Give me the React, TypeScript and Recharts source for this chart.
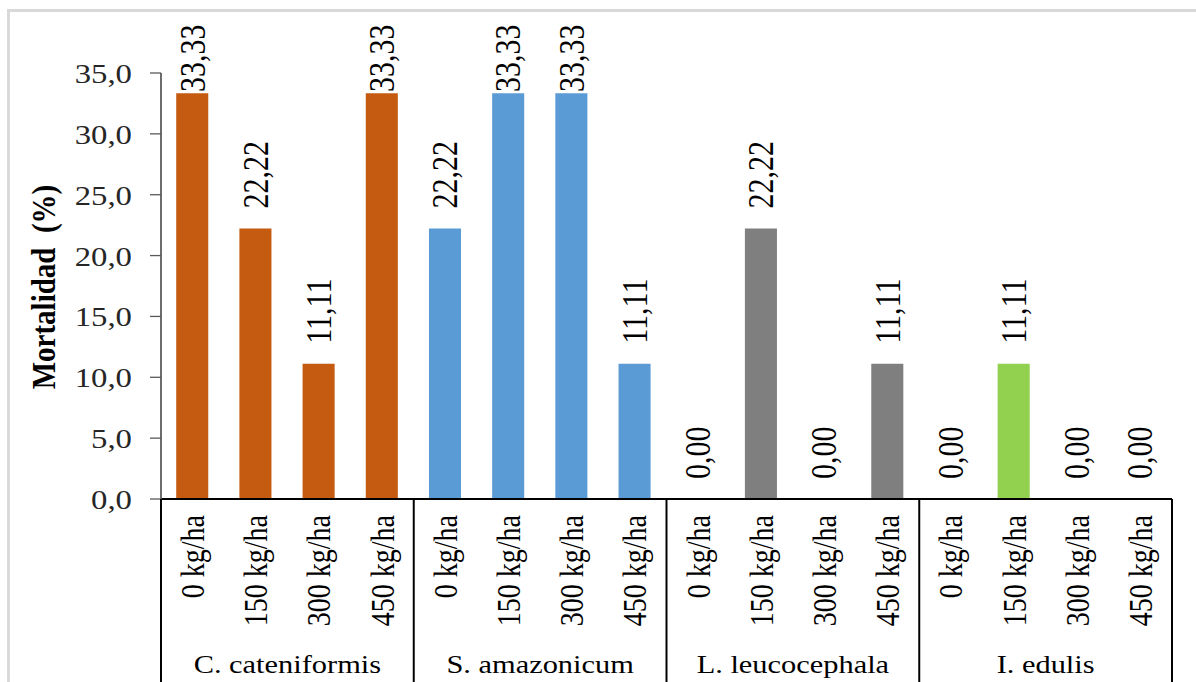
import { BarChart, Bar, XAxis, YAxis, Cell } from 'recharts';

const species = ['C. cateniformis', 'S. amazonicum', 'L. leucocephala', 'I. edulis'];
const doses = ['0 kg/ha', '150 kg/ha', '300 kg/ha', '450 kg/ha'];

// mortalidad (%) por dosis, una lista por especie
const cateniformis = [33.33, 22.22, 11.11, 33.33];
const amazonicum = [22.22, 33.33, 33.33, 11.11];
const leucocephala = [0, 22.22, 0, 11.11];
const edulis = [0, 11.11, 0, 0];

const yTicks = [0, 5, 10, 15, 20, 25, 30, 35];
const speciesColors = ['#C55A11', '#5B9BD5', '#7F7F7F', '#92D050'];

const mortality = [cateniformis, amazonicum, leucocephala, edulis];

const rows = species.flatMap((sp, si) =>
  doses.map((dose, di) => ({
    id: `${si}-${di}`,
    dose,
    species: sp,
    value: mortality[si][di],
    color: speciesColors[si],
  }))
);

// the whole figure is drawn narrow and stretched sideways
const STRETCH = 1.17;
const W = 1196 / STRETCH;
const H = 682;
const PLOT_LEFT = 161 / STRETCH;
const PLOT_RIGHT = 1172 / STRETCH;
const PLOT_TOP = 73;
const PLOT_BOTTOM = 499;
const BAND = (PLOT_RIGHT - PLOT_LEFT) / rows.length;
const LABEL_FLOOR = 92; // keeps tall value labels inside the frame

const FONT = "'Liberation Serif', 'Times New Roman', serif";
const serif = { fontFamily: FONT };

const fmt1 = (v: number) => v.toFixed(1).replace('.', ',');
const fmt2 = (v: number) => v.toFixed(2).replace('.', ',');

function DoseTick(props: any) {
  const { x, y, payload } = props;
  const index: number = props.index ?? payload.index;
  const row = rows[index];
  if (!row) return null;
  const left = x - BAND / 2;
  const right = x + BAND / 2;
  return (
    <g>
      <text
        transform={`translate(${x},${y + 16}) rotate(-90)`}
        textAnchor="end"
        dy="0.35em"
        fontSize={28}
        style={serif}
        fill="#000"
      >
        {row.dose}
      </text>
      {index % 4 === 0 && (
        <line x1={left} x2={left} y1={y} y2={H} stroke="#000" strokeWidth={1.7} />
      )}
      {index === rows.length - 1 && (
        <line x1={right} x2={right} y1={y} y2={H} stroke="#000" strokeWidth={1.7} />
      )}
      {index % 4 === 1 && (
        <text x={right} y={673} textAnchor="middle" fontSize={26} style={serif} fill="#000">
          {row.species}
        </text>
      )}
    </g>
  );
}

function ValueLabel(props: any) {
  const { x, y, width, value } = props;
  const cx = Number(x) + Number(width) / 2;
  const base = Math.max(Number(y) - 20, LABEL_FLOOR);
  return (
    <text
      transform={`translate(${cx},${base}) rotate(-90)`}
      textAnchor="start"
      dy="0.35em"
      fontSize={30}
      style={serif}
      fill="#000"
    >
      {fmt2(Number(value))}
    </text>
  );
}

function AxisTitle() {
  const x = 43 / STRETCH;
  const y = 287;
  return (
    <text
      x={x}
      y={y}
      transform={`rotate(-90 ${x} ${y})`}
      textAnchor="middle"
      dy="0.35em"
      fontSize={29}
      fontWeight="bold"
      style={serif}
      fill="#000"
    >
      {'Mortalidad\u00a0 (%)'}
    </text>
  );
}

export default function App() {
  return (
    <div
      style={{
        position: 'absolute',
        left: 0,
        top: 0,
        width: 1196,
        height: 682,
        overflow: 'hidden',
        background: '#fff',
      }}
    >
      <div
        style={{
          position: 'absolute',
          left: 7,
          top: 9,
          width: 1300,
          height: 800,
          borderTop: '3px solid #d9d9d9',
          borderLeft: '3px solid #d9d9d9',
        }}
      />
      <div
        style={{
          position: 'absolute',
          left: 0,
          top: 0,
          width: W,
          height: H,
          transform: `scaleX(${STRETCH})`,
          transformOrigin: '0 0',
        }}
      >
        <BarChart
          width={W}
          height={H}
          data={rows}
          margin={{ top: PLOT_TOP, right: W - PLOT_RIGHT, left: 0, bottom: 0 }}
          barSize={27.4}
        >
          <XAxis
            dataKey="id"
            height={H - PLOT_BOTTOM}
            interval={0}
            tickLine={false}
            tickSize={0}
            tickMargin={0}
            axisLine={{ stroke: '#000', strokeWidth: 2 }}
            tick={<DoseTick />}
          />
          <YAxis
            type="number"
            domain={[0, 35]}
            ticks={yTicks}
            interval={0}
            width={PLOT_LEFT}
            tickSize={9.4}
            tickMargin={15.4}
            tickFormatter={fmt1}
            axisLine={{ stroke: '#595959', strokeWidth: 1.5 }}
            tickLine={{ stroke: '#595959', strokeWidth: 1.3 }}
            tick={{ fontSize: 28, fontFamily: FONT, fill: '#262626' }}
            label={<AxisTitle />}
          />
          <Bar
            dataKey="value"
            isAnimationActive={false}
            minPointSize={0.01}
            label={<ValueLabel />}
          >
            {rows.map((r) => (
              <Cell key={r.id} fill={r.color} />
            ))}
          </Bar>
        </BarChart>
      </div>
    </div>
  );
}
